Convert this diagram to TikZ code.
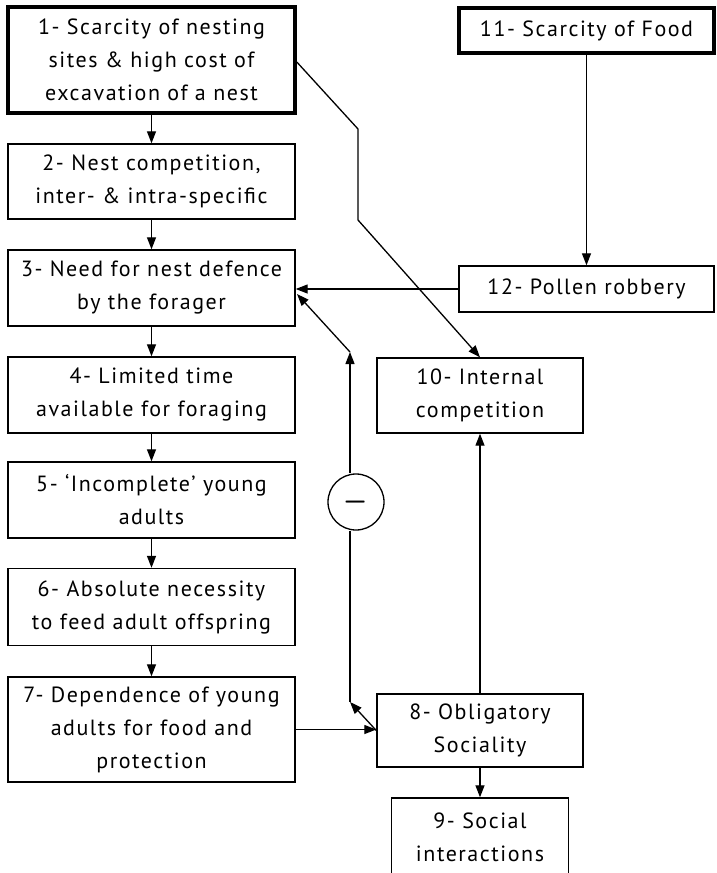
\documentclass[tikz,border=0pt]{standalone}
\usepackage{fontspec}
\usepackage{graphicx}
\setmainfont{PT Sans}[LetterSpace=7]
\usetikzlibrary{arrows.meta,calc}
\begin{document}
\begin{tikzpicture}[x=1pt,y=-1pt,
  box/.style={draw, line width=1.4pt, align=center, inner sep=0pt, font=\fontsize{22}{33}\selectfont},
  thickbox/.style={box, line width=3.6pt},
  arr/.style={line width=1.3pt, -{Triangle[length=12pt,width=9pt]}},
  ln/.style={line width=1.3pt},
  signnode/.style={draw, circle, line width=1.3pt, minimum size=56pt, inner sep=0pt}]
\useasboundingbox (0,0) rectangle (717,873);
\clip (0,0) rectangle (717,873);
\fill[white] (0,0) rectangle (717,873);

\node[thickbox, minimum width=287pt, minimum height=106pt] (b1) at (151.5,60) {1- Scarcity of nesting\\sites \& high cost of\\excavation of a nest};
\node[box, minimum width=287pt, minimum height=75pt] (b2) at (151.5,181.5) {2- Nest competition,\\inter- \& intra-specific};
\node[box, minimum width=287pt, minimum height=76pt] (b3) at (151.5,288) {3- Need for nest defence\\by the forager};
\node[box, minimum width=287pt, minimum height=76pt] (b4) at (151.5,395) {4- Limited time\\available for foraging};
\node[box, minimum width=287pt, minimum height=76pt] (b5) at (151.5,500) {5- `Incomplete' young\\adults};
\node[box, minimum width=287pt, minimum height=77pt] (b6) at (151.5,607) {6- Absolute necessity\\to feed adult offspring};
\node[box, minimum width=287pt, minimum height=105pt] (b7) at (151.5,729.5) {7- Dependence of young\\adults for food and\\protection};
\node[box, minimum width=206pt, minimum height=73pt] (b8) at (480,730.5) {8- Obligatory\\Sociality};
\node[box, minimum width=177pt, minimum height=78pt] (b9) at (480,837) {9- Social\\interactions};
\node[box, minimum width=206pt, minimum height=75pt] (b10) at (480,395.5) {10- Internal\\competition};
\node[thickbox, minimum width=255pt, minimum height=45pt] (b11) at (586.5,30.5) {11- Scarcity of Food};
\node[box, minimum width=255pt, minimum height=46pt] (b12) at (586.5,289) {12- Pollen robbery};
\node[signnode] (neg) at (356,502) {\raisebox{3pt}{\scalebox{1.25}[2]{\fontsize{24}{24}\selectfont$-$}}};

\coordinate (k1) at (358,129);
\coordinate (k2) at (358,220);
\coordinate (f1) at (350,702);
\coordinate (f2) at (350,352);
\coordinate (t3) at (297,294);

\draw[arr] (b1.south) -- (b2.north);
\draw[arr] (b2.south) -- (b3.north);
\draw[arr] (b3.south) -- (b4.north);
\draw[arr] (b4.south) -- (b5.north);
\draw[arr] (b5.south) -- (b6.north);
\draw[arr] (b6.south) -- (b7.north);
\draw[arr] (b7.east) -- (b7.east -| b8.west);
\draw[arr] (b8.south) -- (b9.north);
\draw[arr] (b8.north) -- (b10.south);
\draw[arr] (b11.south) -- (b12.north);
\draw[arr] (b12.west) -- (b12.west -| b3.east);
\draw[arr] ($(b1.east)+(0,2)$) -- (k1) -- (k2) -- (b10.north);
\draw[arr] (b8.west) -- (f1);
\draw[ln] (f1) -- (f1 |- neg.south);
\draw[arr] (f2 |- neg.north) -- (f2);
\draw[arr] (f2) -- (t3);
\end{tikzpicture}
\end{document}
